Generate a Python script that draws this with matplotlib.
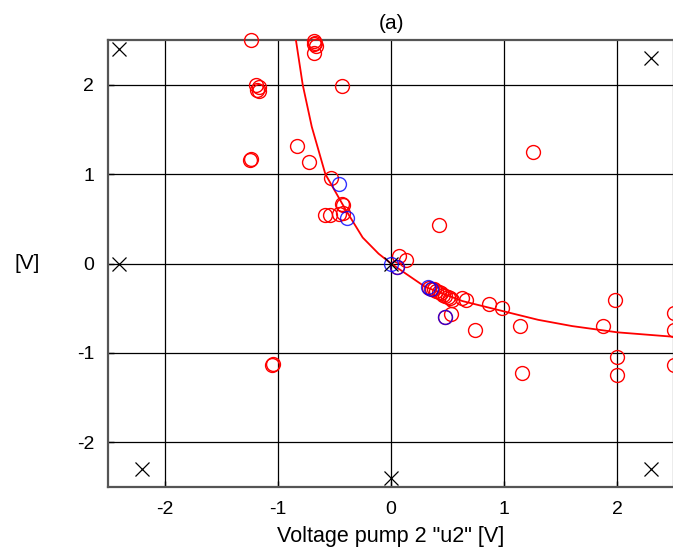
import numpy as np
from matplotlib import pyplot as plt

plt.rcParams['font.family'] = ['Liberation Sans', 'DejaVu Sans']
plt.rcParams['axes.unicode_minus'] = False

# fitted model curve
CURVE_U2 = [-0.84, -0.78, -0.70, -0.58, -0.40, -0.25, -0.11, 0.0, 0.30, 0.63, 0.98, 1.30, 1.60, 2.00, 2.50]
CURVE_V = [2.50, 2.00, 1.53, 1.00, 0.60, 0.29, 0.11, 0.0, -0.26, -0.42, -0.53, -0.63, -0.70, -0.77, -0.82]

# measured samples
RED_U2 = [-1.24, -0.68, -0.67, -0.68, -0.66, -0.68, -0.43,
          -1.19, -1.17, -1.18, -1.17, -1.24, -1.245, -0.83, -0.72, -0.53,
          -0.43, -0.42, -0.58, -0.54, -0.46, -0.42, 0.07, 0.13, 0.05, 0.42,
          0.34, 0.36, 0.38, 0.40, 0.42, 0.44, 0.46, 0.48, 0.50, 0.52, 0.54,
          0.63, 0.66, 0.53, 0.48, 0.74, 0.87, 0.98, 1.14, 1.16, 1.25,
          1.87, 1.98, 2.00, 2.00, 2.50, 2.50, 2.50, -1.05, -1.045]
RED_V = [2.50, 2.49, 2.47, 2.45, 2.43, 2.35, 1.98,
         2.00, 1.97, 1.94, 1.93, 1.17, 1.16, 1.31, 1.13, 0.96,
         0.67, 0.65, 0.54, 0.54, 0.55, 0.56, 0.08, 0.04, -0.04, 0.43,
         -0.27, -0.28, -0.29, -0.31, -0.32, -0.33, -0.35, -0.36, -0.38, -0.39, -0.41,
         -0.39, -0.41, -0.56, -0.60, -0.74, -0.45, -0.50, -0.70, -1.23, 1.25,
         -0.70, -0.41, -1.05, -1.25, -0.55, -0.74, -1.13, -1.13, -1.125]

# validation samples
BLUE_U2 = [-0.46, -0.39, 0.0, 0.05, 0.33, 0.35, 0.48]
BLUE_V = [0.89, 0.51, 0.0, -0.04, -0.26, -0.28, -0.60]

# design corner points
CROSS_U2 = [-2.4, -2.4, -2.2, 0.0, 2.3, 2.3, 0.0]
CROSS_V = [2.4, 0.0, -2.3, -2.4, -2.3, 2.3, 0.0]

TICKS = [-2, -1, 0, 1, 2]


def draw(ax: plt.Axes):
    ax.plot(CURVE_U2, CURVE_V, color='red', linewidth=1.3, zorder=3)
    ax.plot(RED_U2, RED_V, linestyle='none', marker='o', markersize=10,
            markerfacecolor='none', markeredgecolor='red', markeredgewidth=1.0,
            clip_on=False, zorder=4)
    ax.plot(BLUE_U2, BLUE_V, linestyle='none', marker='o', markersize=10,
            markerfacecolor='none', markeredgecolor='blue', markeredgewidth=1.0,
            alpha=0.8, clip_on=False, zorder=5)
    ax.plot(CROSS_U2, CROSS_V, linestyle='none', marker='x', markersize=10,
            color='black', markeredgewidth=0.9, clip_on=False, zorder=5)


if __name__ == "__main__":
    fig = plt.figure(figsize=(6.73, 5.52), dpi=100)
    ax = fig.add_axes([108 / 673, 65 / 552, 566 / 673, 447 / 552])

    draw(ax)

    ax.set_xlim(-2.5, 2.5)
    ax.set_ylim(-2.5, 2.5)
    ax.set_xticks(TICKS)
    ax.set_yticks(TICKS)
    ax.grid(True, color='black', linewidth=0.9, linestyle='-')
    ax.set_axisbelow(True)
    ax.tick_params(direction='in', length=4, width=1, labelsize=14,
                   pad=10, colors='black')
    for spine in ax.spines.values():
        spine.set_color('#555555')
        spine.set_linewidth(1.6)

    ax.set_title('(a)', fontsize=15, pad=8)
    ax.set_xlabel('Voltage pump 2 "u2" [V]', fontsize=15.5, labelpad=6)
    ax.set_ylabel('[V]', fontsize=15, rotation=0, ha='center', va='center')
    ax.yaxis.set_label_coords(-0.143, 0.5)

    plt.savefig('out.png', dpi=100)
